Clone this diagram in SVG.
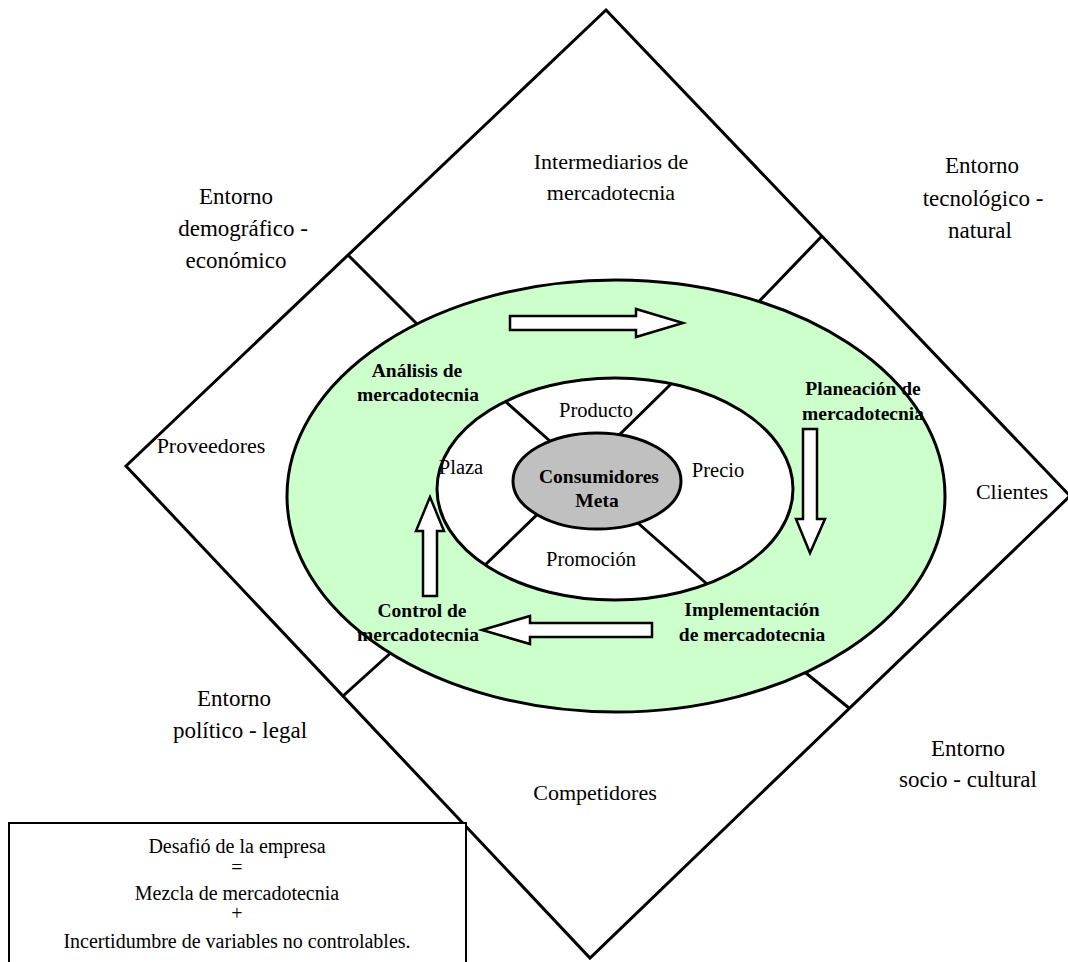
<svg xmlns="http://www.w3.org/2000/svg" width="1068" height="962" viewBox="0 0 1068 962">
  <style>
    .ln { stroke: #000; stroke-width: 3; fill: none; }
    .arrow { fill: #fff; stroke: #000; stroke-width: 2.5; stroke-linejoin: miter; }
    .env { font-family: "Liberation Serif", "Times New Roman", serif; font-size: 23px; text-anchor: middle; fill: #000; }
    .actor { font-family: "Liberation Serif", "Times New Roman", serif; font-size: 22px; text-anchor: middle; fill: #000; }
    .step { font-family: "Liberation Serif", "Times New Roman", serif; font-size: 19.5px; font-weight: bold; text-anchor: middle; fill: #000; }
    .mix { font-family: "Liberation Serif", "Times New Roman", serif; font-size: 20.5px; text-anchor: middle; fill: #000; }
    .note { font-family: "Liberation Serif", "Times New Roman", serif; font-size: 20px; text-anchor: middle; fill: #000; }
  </style>
  <rect width="1068" height="962" fill="#fff"/>

  <!-- outer environment diamond -->
  <g id="environment">
    <polygon class="ln" points="606,10 1070,496 590,958 126,466"/>
  </g>

  <!-- sector dividers between the diamond and the process ring -->
  <g id="connectors">
    <line class="ln" x1="348" y1="255" x2="425" y2="332"/>
    <line class="ln" x1="822" y1="236" x2="745" y2="316"/>
    <line class="ln" x1="849" y1="708" x2="780" y2="652"/>
    <line class="ln" x1="343" y1="696" x2="405" y2="640"/>
  </g>

  <!-- marketing process ring -->
  <g id="process">
    <ellipse cx="616" cy="496" rx="329" ry="216" fill="#CCFFCC" stroke="#000" stroke-width="3"/>
  </g>

  <!-- marketing mix ring -->
  <g id="mix">
    <ellipse cx="615" cy="489" rx="178" ry="111" fill="#fff" stroke="#000" stroke-width="3"/>
    <line class="ln" x1="560" y1="450" x2="505" y2="401"/>
    <line class="ln" x1="612" y1="442" x2="671" y2="384"/>
    <line class="ln" x1="547" y1="505" x2="485" y2="565"/>
    <line class="ln" x1="630" y1="516" x2="707" y2="584"/>
  </g>

  <!-- target consumers core -->
  <g id="core">
    <ellipse cx="597" cy="481" rx="84" ry="48" fill="#C0C0C0" stroke="#000" stroke-width="3"/>
    <text class="step" x="599" y="483">Consumidores</text>
    <text class="step" x="597" y="507">Meta</text>
  </g>

  <!-- process cycle arrows -->
  <g id="cycle-arrows">
    <polygon class="arrow" points="510,316 636,316 636,309 683,323 636,337 636,330 510,330"/>
    <polygon class="arrow" points="803,429 817,429 817,519 825,519 810,553 796,519 803,519"/>
    <polygon class="arrow" points="652,623 530,623 530,616 482,630 530,644 530,637 652,637"/>
    <polygon class="arrow" points="423,596 423,531 416,531 430,497 444,531 437,531 437,596"/>
  </g>

  <!-- environment labels -->
  <g id="env-demografico">
    <text class="env" x="236" y="204">Entorno</text>
    <text class="env" x="243" y="236">demográfico -</text>
    <text class="env" x="236" y="268">económico</text>
  </g>
  <g id="env-tecnologico">
    <text class="env" x="982" y="173">Entorno</text>
    <text class="env" x="983" y="206">tecnológico -</text>
    <text class="env" x="980" y="238">natural</text>
  </g>
  <g id="env-politico">
    <text class="env" x="234" y="706">Entorno</text>
    <text class="env" x="240" y="738">político - legal</text>
  </g>
  <g id="env-socio">
    <text class="env" x="968" y="756">Entorno</text>
    <text class="env" x="968" y="787">socio - cultural</text>
  </g>

  <!-- market actors -->
  <g id="intermediarios">
    <text class="actor" x="611" y="169">Intermediarios de</text>
    <text class="actor" x="611" y="200">mercadotecnia</text>
  </g>
  <g id="proveedores"><text class="actor" x="211" y="453">Proveedores</text></g>
  <g id="clientes"><text class="actor" x="1012" y="499">Clientes</text></g>
  <g id="competidores"><text class="actor" x="595" y="800">Competidores</text></g>

  <!-- process steps -->
  <g id="analisis">
    <text class="step" x="417" y="377">Análisis de</text>
    <text class="step" x="418" y="401">mercadotecnia</text>
  </g>
  <g id="planeacion">
    <text class="step" x="863" y="395">Planeación de</text>
    <text class="step" x="863" y="420">mercadotecnia</text>
  </g>
  <g id="control">
    <text class="step" x="422" y="617">Control de</text>
    <text class="step" x="418" y="641">mercadotecnia</text>
  </g>
  <g id="implementacion">
    <text class="step" x="752" y="616">Implementación</text>
    <text class="step" x="752" y="641">de mercadotecnia</text>
  </g>

  <!-- mix elements -->
  <g id="producto"><text class="mix" x="596" y="417">Producto</text></g>
  <g id="plaza"><text class="mix" x="461" y="474">Plaza</text></g>
  <g id="precio"><text class="mix" x="718" y="477">Precio</text></g>
  <g id="promocion"><text class="mix" x="591" y="566">Promoción</text></g>

  <!-- challenge note -->
  <g id="desafio">
    <rect x="9" y="823" width="457" height="150" fill="#fff" stroke="#000" stroke-width="2"/>
    <text class="note" x="237" y="853">Desafió de la empresa</text>
    <text class="note" x="237" y="874">=</text>
    <text class="note" x="237" y="900">Mezcla de mercadotecnia</text>
    <text class="note" x="237" y="920">+</text>
    <text class="note" x="237" y="948">Incertidumbre de variables no controlables.</text>
  </g>
</svg>
